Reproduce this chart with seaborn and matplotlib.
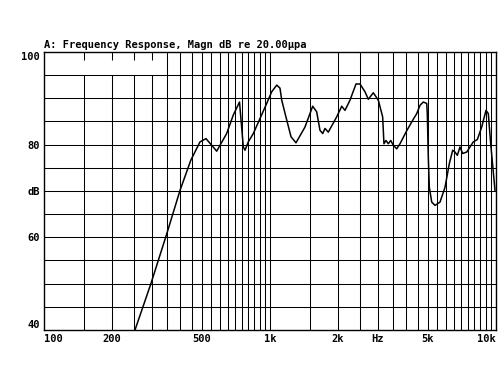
import matplotlib
matplotlib.use('Agg')
import matplotlib.pyplot as plt
import seaborn as sns
import pandas as pd
import numpy as np
from matplotlib.ticker import NullLocator

# ---- data ----
freq_hz = [252.7, 296.7, 349, 399.6, 445.9, 490, 521, 581, 643, 688, 733, 762, 775,
           801.5, 843.7, 967, 1017, 1071, 1107, 1127, 1186, 1239, 1303, 1428, 1545, 1609,
           1664, 1711, 1751, 1811, 1973, 2077, 2147, 2259, 2402, 2501, 2633, 2723,
           2865, 3015, 3151, 3193, 3260, 3338, 3420, 3512, 3636, 3761, 4026, 4307,
           4459, 4611, 4769, 4937, 4966, 5017, 5069, 5195, 5373, 5652, 5948, 6215,
           6433, 6586, 6743, 6929, 7123, 7420, 7935, 8268, 8643, 9032, 9246, 9474, 9899]
magn_db = [40.0, 49.9, 60.7, 70.1, 76.6, 80.6, 81.3, 78.6, 82.4, 86.4, 89.2, 79.5, 78.8,
           80.6, 82.4, 88.9, 91.4, 92.85, 92.2, 89.6, 85.3, 81.7, 80.4, 83.8, 88.3, 87.1,
           83.1, 82.4, 83.5, 82.7, 86.0, 88.3, 87.4, 89.6, 93.1, 93.1, 91.4, 89.8,
           91.2, 89.6, 86.0, 80.2, 80.9, 80.2, 80.9, 79.9, 79.1, 80.2, 83.0, 85.5,
           86.7, 88.5, 89.2, 88.9, 86.7, 77.3, 70.8, 67.6, 66.9, 67.6, 70.8, 75.9,
           78.8, 78.4, 77.7, 79.5, 78.1, 78.4, 80.6, 81.1, 83.8, 87.4, 86.7, 80.2, 70.1]

xtick_vals = [100, 200, 500, 1000, 2000, 3000, 5000, 10000]
xtick_labels = ['100', '200', '500', '1k', '2k', 'Hz', '5k', '10k']
ytick_vals = [40, 60, 70, 80, 100]
ytick_labels = ['40', '60', 'dB', '80', '100']
title_text = 'A: Frequency Response, Magn dB re 20.00\u03bcpa'

df = pd.DataFrame({'freq': freq_hz, 'db': magn_db})

sns.set_style('white')
plt.rcParams['font.family'] = ['DejaVu Sans Mono', 'DejaVu Sans']

fig = plt.figure(figsize=(5, 3.75), dpi=100)
ax = fig.add_axes([44 / 500, 45 / 375, 452 / 500, 278 / 375])
ax.set_xscale('log')
ax.set_xlim(100, 10000)
ax.set_ylim(40, 100)

# grid (drawn manually to copy the reference's layout)
grid_lo = [150, 200, 250, 300]
grid_hi = list(range(350, 1001, 50)) + list(range(1500, 10001, 500))
gkw = dict(colors='black', linewidth=0.75, zorder=1)
ax.vlines(grid_hi, 40, 100, **gkw)
ax.vlines(grid_lo, 40, 95, **gkw)
ax.vlines(grid_lo, 98.2, 100, **gkw)
ax.hlines(list(range(45, 100, 5)), 100, 10000, **gkw)

sns.lineplot(data=df, x='freq', y='db', ax=ax, color='black', linewidth=1.1,
             sort=False, estimator=None, legend=False, zorder=3)

ax.set_xlabel('')
ax.set_ylabel('')
ax.set_xticks(xtick_vals)
ax.set_xticklabels(xtick_labels)
ax.xaxis.set_minor_locator(NullLocator())
ax.set_yticks(ytick_vals)
ax.set_yticklabels(ytick_labels)
ax.tick_params(axis='both', length=0, labelsize=7.5, colors='black')
ax.tick_params(axis='x', pad=3)
ax.tick_params(axis='y', pad=3)
for t in ax.get_xticklabels() + ax.get_yticklabels():
    t.set_fontweight('bold')
xl = ax.get_xticklabels()
xl[0].set_ha('left')
xl[-1].set_ha('right')
yl = ax.get_yticklabels()
yl[0].set_va('bottom')
yl[-1].set_va('top')

for s in ax.spines.values():
    s.set_visible(True)
    s.set_color('black')
    s.set_linewidth(1.0)

ax.set_title(title_text, loc='left', fontsize=7.5, fontweight='bold', pad=3,
             color='black')

fig.savefig('out.png', dpi=100, facecolor='white')
